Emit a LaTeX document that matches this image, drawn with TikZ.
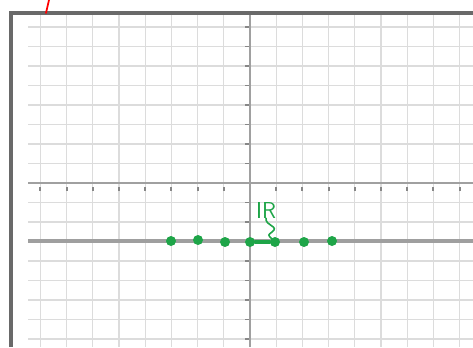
\documentclass[tikz,border=0pt]{standalone}
\usepackage{tikz}
\definecolor{pen}{RGB}{30,165,72}
\definecolor{gridc}{RGB}{220,220,220}
\definecolor{axisc}{RGB}{160,160,160}
\definecolor{framec}{RGB}{105,105,105}
\tikzset{
  gridline/.style={draw=gridc, line width=1pt},
  axisline/.style={draw=axisc, line width=1.3pt},
  tickmark/.style={draw=framec!80, line width=1.4pt},
  numline/.style={draw=gray!75, line width=2.6pt},
  dot/.style={circle, fill=pen, inner sep=0pt, minimum size=7.5pt},
  ink/.style={draw=pen, line width=1.6pt, line cap=round, line join=round}
}
\begin{document}
\begin{tikzpicture}[x=0.75pt,y=-0.75pt]
\useasboundingbox (0,0) rectangle (473,347);
\fill[white] (0,0) rectangle (473,347);
% grid
\foreach \k in {-8,...,8} {
  \draw[gridline] ({250+26.2*\k},15) -- ({250+26.2*\k},347);
}
\foreach \k in {-8,...,8} {
  \draw[gridline] (28,{183+19.5*\k}) -- (473,{183+19.5*\k});
}
% axes
\draw[axisline] (250,15) -- (250,347);
\draw[axisline] (28,183) -- (473,183);
\foreach \k in {-8,...,-1,1,2,...,8} {
  \draw[tickmark] ({250+26.2*\k},187) -- ({250+26.2*\k},191);
}
\foreach \k in {-8,...,-1,1,2,...,8} {
  \draw[tickmark] (245,{183+19.5*\k}) -- (249,{183+19.5*\k});
}
% number line
\draw[numline] (28,241) -- (473,241);
% frame
\draw[framec, line width=2.4pt] (11,347) -- (11,13) -- (473,13);
% red mark
\draw[red, line width=1.3pt, line cap=round] (49,0) -- (46,13);
% dots
\node[dot] (d1) at (171,241) {};
\node[dot] (d2) at (198,240) {};
\node[dot] (d3) at (225,242) {};
\node[dot] (d4) at (250,242) {};
\node[dot] (d5) at (275,242) {};
\node[dot] (d6) at (304,242) {};
\node[dot] (d7) at (332,241) {};
\draw[ink, line width=2.6pt] (d4) -- (d5);
% label
\node[text=pen, font=\sffamily\LARGE, inner sep=0pt] (lab) at (266,210) {IR};
\draw[ink, line width=1.2pt] (lab.south) .. controls (265,226) and (280,226) .. (272,232) .. controls (268,235) .. (d5);
\end{tikzpicture}
\end{document}
